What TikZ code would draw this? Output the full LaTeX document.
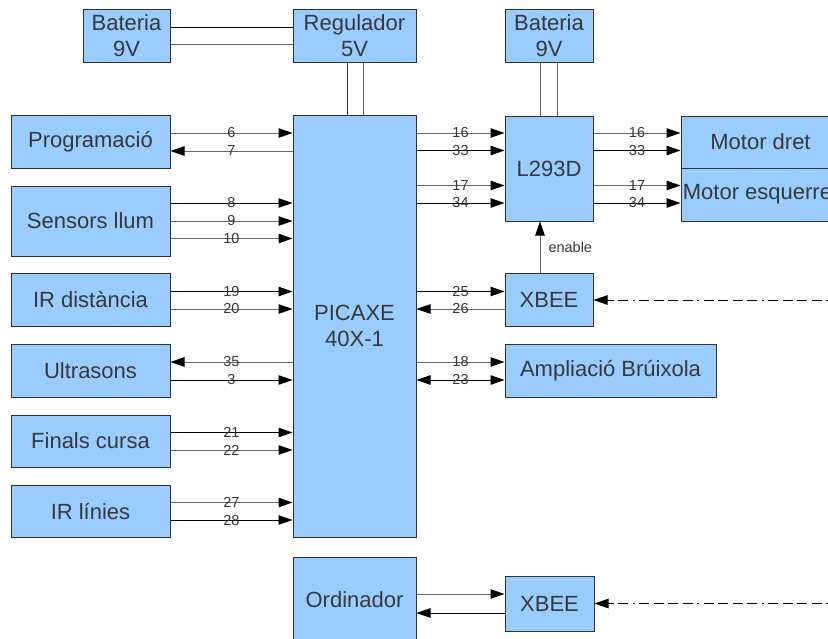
\documentclass[tikz,border=0pt]{standalone}
\usepackage{fontspec}
\setmainfont{Liberation Sans}
\usetikzlibrary{arrows.meta}
\definecolor{boxfill}{HTML}{99CCFF}
\definecolor{boxline}{HTML}{333333}
\definecolor{txt}{HTML}{383838}
\definecolor{gline}{HTML}{666666}
\tikzset{
  blk/.style={draw=boxline, fill=boxfill, line width=1pt, inner sep=0pt, align=center,
    text=txt, font=\fontsize{22}{26}\selectfont},
  lbl/.style={text=txt, font=\fontsize{14.5}{15}\selectfont, inner sep=0pt},
  wk/.style={draw=black, line width=0.9pt},
  wg/.style={draw=gline, line width=1pt},
  tip/.style={-{Triangle[length=14pt,width=9.5pt,color=black]}},
  tipb/.style={{Triangle[length=14pt,width=9.5pt,color=black]}-{Triangle[length=14pt,width=9.5pt,color=black]}},
  radio/.style={draw=black, line width=0.9pt, dash pattern=on 2pt off 4.5pt on 10pt off 4.5pt on 10pt off 4.5pt on 10pt off 4.5pt on 10pt off 4.5pt},
}
\begin{document}
\begin{tikzpicture}[x=1pt,y=-1pt]
\useasboundingbox (0,0) rectangle (828,638);
\clip (0,0) rectangle (828,638);
% boxes
\node[blk, minimum width=87, minimum height=53] (bat1) at (126.5,35.5) {Bateria\\9V};
\node[blk, minimum width=123, minimum height=53] (reg) at (354.5,35.5) {Regulador\\5V};
\node[blk, minimum width=88, minimum height=53] (bat2) at (549,35.5) {Bateria\\9V};
\node[blk, minimum width=123, minimum height=422] (pic) at (354.5,326) {PICAXE\\40X-1};
\node[blk, minimum width=88, minimum height=105] (l293) at (549,168.5) {L293D};
\node[blk, minimum width=159, minimum height=52] (mdret) at (760.5,142) {Motor dret};
\node[blk, minimum width=159, minimum height=53] (mesq) at (760.5,194.5) {\makebox[0pt]{\hspace*{-6pt}Motor esquerre}};
\node[blk, minimum width=88, minimum height=53] (xb1) at (549,299.5) {XBEE};
\node[blk, minimum width=211, minimum height=53] (amp) at (610.5,370.5) {Ampliació Brúixola};
\node[blk, minimum width=159, minimum height=53] (prog) at (90.5,141.5) {Programació};
\node[blk, minimum width=159, minimum height=70] (sens) at (90.5,221) {Sensors llum};
\node[blk, minimum width=159, minimum height=53] (ird) at (90.5,299.5) {IR distància};
\node[blk, minimum width=159, minimum height=53] (ult) at (90.5,370.5) {Ultrasons};
\node[blk, minimum width=159, minimum height=52] (fin) at (90.5,441) {Finals cursa};
\node[blk, minimum width=159, minimum height=52] (irl) at (90.5,511) {IR línies};
\node[blk, minimum width=123, minimum height=86] (ord) at (354.5,600) {Ordinador};
\node[blk, minimum width=89, minimum height=55] (xb2) at (549.5,603.5) {XBEE};
\coordinate (r1) at (828,300);
\coordinate (r2) at (828,603.5);
% power lines
\draw[wk] (bat1.east |- 0,27) -- (reg.west |- 0,27);
\draw[wg] (bat1.east |- 0,44) -- (reg.west |- 0,44);
\draw[wk,draw=boxline] (reg.south -| 347,0) -- (pic.north -| 347,0);
\draw[wg] (reg.south -| 363,0) -- (pic.north -| 363,0);
\draw[wg] (bat2.south -| 540,0) -- (l293.north -| 540,0);
\draw[wg] (bat2.south -| 557,0) -- (l293.north -| 557,0);
% left side
\draw[wg,tip] (prog.east |- 0,133) -- node[lbl]{6} (pic.west |- 0,133);
\draw[wg,tip] (pic.west |- 0,151) -- node[lbl]{7} (prog.east |- 0,151);
\draw[wk,tip] (sens.east |- 0,203) -- node[lbl]{8} (pic.west |- 0,203);
\draw[wg,tip] (sens.east |- 0,221) -- node[lbl]{9} (pic.west |- 0,221);
\draw[wg,tip] (sens.east |- 0,238.5) -- node[lbl]{10} (pic.west |- 0,238.5);
\draw[wk,tip] (ird.east |- 0,291.5) -- node[lbl]{19} (pic.west |- 0,291.5);
\draw[wg,tip] (ird.east |- 0,309) -- node[lbl]{20} (pic.west |- 0,309);
\draw[wg,tip] (pic.west |- 0,362) -- node[lbl]{35} (ult.east |- 0,362);
\draw[wk,tip] (ult.east |- 0,380) -- node[lbl]{3} (pic.west |- 0,380);
\draw[wk,tip] (fin.east |- 0,432.5) -- node[lbl]{21} (pic.west |- 0,432.5);
\draw[wg,tip] (fin.east |- 0,450) -- node[lbl]{22} (pic.west |- 0,450);
\draw[wg,tip] (irl.east |- 0,502.5) -- node[lbl]{27} (pic.west |- 0,502.5);
\draw[wk,tip] (irl.east |- 0,520) -- node[lbl]{28} (pic.west |- 0,520);
% PICAXE -> L293D
\draw[wg,tip] (pic.east |- 0,133) -- node[lbl]{16} (l293.west |- 0,133);
\draw[wk,tip] (pic.east |- 0,150.5) -- node[lbl]{33} (l293.west |- 0,150.5);
\draw[wg,tip] (pic.east |- 0,185.5) -- node[lbl]{17} (l293.west |- 0,185.5);
\draw[wk,tip] (pic.east |- 0,203) -- node[lbl]{34} (l293.west |- 0,203);
% L293D -> motors
\draw[wg,tip] (l293.east |- 0,133) -- node[lbl]{16} (mdret.west |- 0,133);
\draw[wk,tip] (l293.east |- 0,150.5) -- node[lbl]{33} (mdret.west |- 0,150.5);
\draw[wg,tip] (l293.east |- 0,185.5) -- node[lbl]{17} (mesq.west |- 0,185.5);
\draw[wk,tip] (l293.east |- 0,203) -- node[lbl]{34} (mesq.west |- 0,203);
% enable
\draw[wg,tip] (xb1.north -| 540,0) -- node[lbl, right=8pt]{enable} (l293.south -| 540,0);
% XBEE 1
\draw[wk,tip] (pic.east |- 0,291.5) -- node[lbl]{25} (xb1.west |- 0,291.5);
\draw[wg,tip] (xb1.west |- 0,309) -- node[lbl]{26} (pic.east |- 0,309);
\draw[radio,tip] (r1) -- (xb1.east |- r1);
% Ampliacio
\draw[wg,tip] (pic.east |- 0,362) -- node[lbl]{18} (amp.west |- 0,362);
\draw[wk,tipb] (pic.east |- 0,380) -- node[lbl]{23} (amp.west |- 0,380);
% Ordinador
\draw[wg,tip] (ord.east |- 0,594) -- (xb2.west |- 0,594);
\draw[wk,tip] (xb2.west |- 0,613) -- (ord.east |- 0,613);
\draw[radio,tip] (r2) -- (xb2.east |- r2);
\end{tikzpicture}
\end{document}
